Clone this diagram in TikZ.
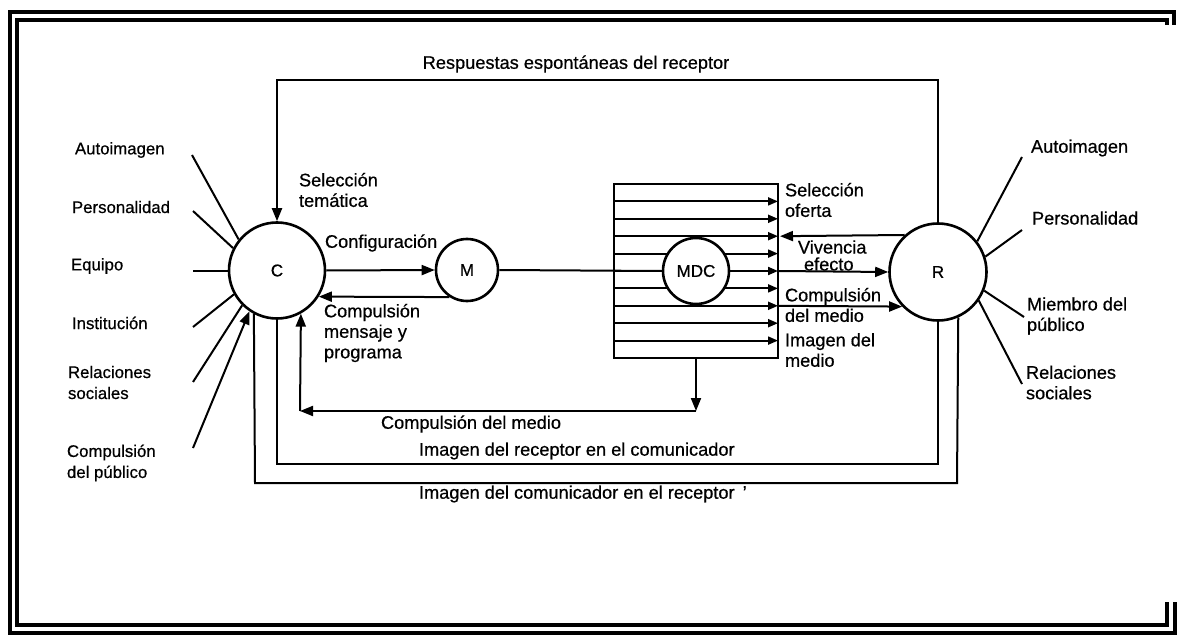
\documentclass[tikz,border=0pt]{standalone}
\usepackage{fontspec}
\setmainfont{Liberation Sans}[FakeBold=0.6]
\usetikzlibrary{arrows.meta}
\begin{document}
\begin{tikzpicture}[x=1pt,y=-1pt,line width=2pt,line join=miter]
\tikzset{
 circ/.style={circle, draw, line width=2.6pt, inner sep=0pt, fill=white, font=\fontsize{17}{20}\selectfont},
 lbl/.style={inner sep=0pt, anchor=west, align=left, font=\fontsize{18.2}{20.5}\selectfont},
 slbl/.style={inner sep=0pt, anchor=west, align=left, font=\fontsize{16.8}{21}\selectfont},
 bigtip/.style={-{Triangle[length=13pt,width=10pt]}},
 smalltip/.style={-{Triangle[length=10pt,width=8pt]}},
 frameline/.style={line width=4pt},
}
\useasboundingbox (0,0) rectangle (1177,636);
% frame
\draw[frameline] (1174,25) -- (1174,12.5) -- (9.5,12.5) -- (9.5,632.5) -- (1175,632.5) -- (1175,602);
\draw[frameline] (1166.5,25) -- (1166.5,20.5) -- (16.5,20.5) -- (16.5,625) -- (1166.5,625) -- (1166.5,602);

% main circles
\node[circ, minimum size=96pt] (C) at (277,270.5) {C};
\node[circ, minimum size=62pt] (M) at (467,270) {M};
\node[circ, minimum size=97pt] (R) at (938,272) {R};

% MDC box with rows
\node[draw, line width=2.4pt, minimum width=164pt, minimum height=174pt, inner sep=0pt] (box) at (696,271) {};
\foreach \k in {1,...,9}{
  \draw[smalltip] ({614},{184+17.4*\k}) -- ({778},{184+17.4*\k});
}
\node[circ, minimum size=66pt] (MDC) at (696,271) {MDC};

% coordinates
\coordinate (topL) at (277,80);
\coordinate (topR) at (938,80);
\coordinate (v1) at (780,236.2);
\coordinate (e1) at (778,271);
\coordinate (c1) at (778,305.8);
\coordinate (k1) at (696,411);
\coordinate (k2) at (300,411);
\coordinate (i1) at (277,464);
\coordinate (i2) at (938,464);
\coordinate (o1) at (255,483);
\coordinate (o2) at (957,483);

% connectors
\draw[bigtip] (R.north) -- (topR) -- (topL) -- (C.north);
\draw[bigtip] (C.east) -- (M.west);
\draw[bigtip] (M.237) -- (C.-32);
\draw (M.east) -- (MDC.west);
\draw[bigtip] (R.132.4) -- (v1);
\draw[bigtip] (e1) -- (R.west);
\draw[bigtip] (c1) -- (R.224.2);
\draw[bigtip] (box.south) -- (k1);
\draw[bigtip] (k1) -- (k2);
\draw[bigtip] (k2) -- (C.-61.4);
\draw (C.south) -- (i1) -- (i2) -- (R.south);
\draw (C.242.7) -- (o1) -- (o2) -- (R.-66.9);

% left radial lines
\coordinate (la) at (192,155);
\coordinate (lb) at (193,211);
\coordinate (lc) at (193,270.5);
\coordinate (ld) at (193,327);
\coordinate (le) at (193,382);
\coordinate (lf) at (193,448);
\draw (la) -- (C.141.5);
\draw (lb) -- (C.153);
\draw (lc) -- (C.west);
\draw (ld) -- (C.209);
\draw (le) -- (C.225);
\draw[bigtip] (lf) -- (C.236);

% right radial lines
\coordinate (ra) at (1022,157);
\coordinate (rb) at (1022,230);
\coordinate (rc) at (1024,317);
\coordinate (rd) at (1022,384);
\draw (ra) -- (R.38);
\draw (rb) -- (R.18);
\draw (rc) -- (R.-22);
\draw (rd) -- (R.-35);

% left labels
\node[slbl] (tA) at (74,150) {Autoimagen};
\node[slbl] (tP) at (71,207) {Personalidad};
\node[slbl] (tE) at (70,266) {Equipo};
\node[slbl] (tI) at (71,323) {Institución};
\node[slbl] (tR) at (67,382.5) {Relaciones\\sociales};
\node[slbl] (tC) at (66,463) {Compulsión\\del público};

% right labels
\node[lbl] (uA) at (1030,148) {Autoimagen};
\node[lbl] (uP) at (1031,218) {Personalidad};
\node[lbl] (uM) at (1026,316) {Miembro del\\público};
\node[lbl] (uR) at (1025,382.5) {Relaciones\\sociales};

% central labels
\node[lbl, anchor=center] (resp) at (576,64) {Respuestas espontáneas del receptor};
\node[lbl] (sel) at (298,190) {Selección\\temática};
\node[lbl] (conf) at (324,243) {Configuración};
\node[lbl] (cmp) at (323,333) {Compulsión\\mensaje y\\programa};
\node[lbl] (so) at (784,200) {Selección\\oferta};
\node[lbl] (viv) at (797,247) {Vivencia};
\node[lbl] (efe) at (803,264) {efecto};
\node[lbl] (cm) at (784,305) {Compulsión\\del medio};
\node[lbl] (im) at (784,350) {Imagen del\\medio};
\node[lbl] (cdm) at (380,424) {Compulsión del medio};
\node[lbl] (irc) at (418,451) {Imagen del receptor en el comunicador};
\node[lbl] (icr) at (418,494) {Imagen del comunicador en el receptor \,'};
\end{tikzpicture}
\end{document}
